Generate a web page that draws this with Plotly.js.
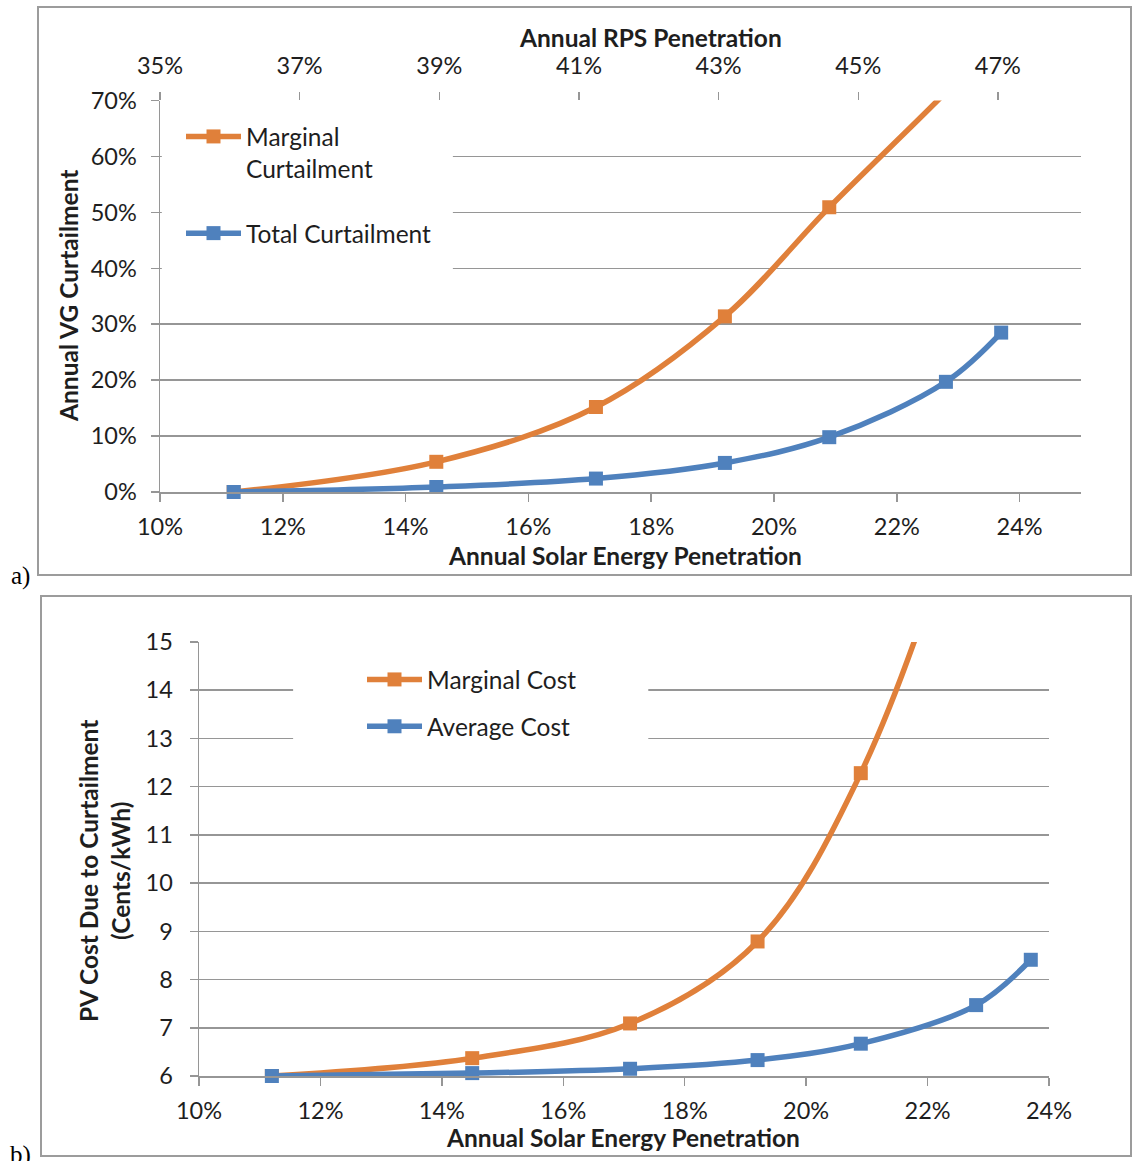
<!DOCTYPE html>
<html>
<head>
<meta charset="utf-8">
<script src="https://cdn.plot.ly/plotly-3.0.1.min.js"></script>
<style>
  html, body { margin: 0; padding: 0; background: #ffffff; }
  #chart { width: 1133px; height: 1161px; }
</style>
</head>
<body>
<div id="chart"></div>
<script>
// Annual solar energy penetration (%) at each simulated build-out
const solarPenetration = [11.2, 14.5, 17.1, 19.2, 20.9, 22.8, 23.7];

// a) Annual VG curtailment (%)
const marginalCurtailment = [0, 5.4, 15.2, 31.4, 50.9, 71.5, 82];
const totalCurtailment = [0, 0.9, 2.4, 5.2, 9.8, 19.7, 28.5];

// b) PV cost due to curtailment (cents/kWh)
const marginalCost = [6.0, 6.37, 7.09, 8.79, 12.28, 19, 24];
const averageCost = [6.0, 6.06, 6.15, 6.33, 6.67, 7.47, 8.41];

// Tick labels
const solarTicks = [10, 12, 14, 16, 18, 20, 22, 24];
const rpsTicks = [35, 37, 39, 41, 43, 45, 47];
const curtailTicks = [0, 10, 20, 30, 40, 50, 60, 70];
const costTicks = [6, 7, 8, 9, 10, 11, 12, 13, 14, 15];

const W = 1133, H = 1161;
const px = v => v / W;
const py = v => 1 - v / H;

const FONT = 'Lato, "Open Sans", "DejaVu Sans", sans-serif';
const TXT = '#1e1e1e';
const GRID = '#969696';
const ORANGE = '#E0803A';
const BLUE = '#4F81BD';
const TICK_SIZE = 23.5;
const TITLE_SIZE = 24.5;
const LEGEND_SIZE = 24.5;

const lineStyle = c => ({ color: c, width: 5.5, shape: 'spline', smoothing: 1 });
const markerStyle = c => ({ color: c, size: 14, symbol: 'square' });

const traces = [
  { x: solarPenetration, y: marginalCurtailment, name: 'Marginal<br>Curtailment',
    xaxis: 'x', yaxis: 'y', mode: 'lines+markers', line: lineStyle(ORANGE),
    marker: markerStyle(ORANGE), legend: 'legend', legendgroup: 'a1', cliponaxis: true },
  { x: solarPenetration, y: totalCurtailment, name: 'Total Curtailment',
    xaxis: 'x', yaxis: 'y', mode: 'lines+markers', line: lineStyle(BLUE),
    marker: markerStyle(BLUE), legend: 'legend', legendgroup: 'a2', cliponaxis: false },
  // empty trace that carries the secondary RPS axis along the top
  { x: [rpsTicks[0], rpsTicks[rpsTicks.length - 1]], y: [null, null],
    xaxis: 'x2', yaxis: 'y', mode: 'lines', showlegend: false, hoverinfo: 'skip' },
  { x: solarPenetration, y: marginalCost, name: 'Marginal Cost',
    xaxis: 'x3', yaxis: 'y2', mode: 'lines+markers', line: lineStyle(ORANGE),
    marker: markerStyle(ORANGE), legend: 'legend2', legendgroup: 'b1', cliponaxis: true },
  { x: solarPenetration, y: averageCost, name: 'Average Cost',
    xaxis: 'x3', yaxis: 'y2', mode: 'lines+markers', line: lineStyle(BLUE),
    marker: markerStyle(BLUE), legend: 'legend2', legendgroup: 'b2', cliponaxis: false }
];

const tickFont = { family: FONT, size: TICK_SIZE, color: TXT };
const axisBase = {
  showline: true, linecolor: GRID, linewidth: 1.5,
  ticks: 'outside', ticklen: 8, tickwidth: 1.5, tickcolor: GRID,
  tickfont: tickFont, zeroline: false, fixedrange: true
};
const titleFont = { family: FONT, size: TITLE_SIZE, color: TXT };

const layout = {
  width: W, height: H,
  margin: { l: 0, r: 0, t: 0, b: 0 },
  paper_bgcolor: '#ffffff', plot_bgcolor: '#ffffff',
  font: { family: FONT, color: TXT },
  showlegend: true,

  // panel a
  xaxis: Object.assign({}, axisBase, {
    domain: [px(160), px(1081)], anchor: 'y', range: [10, 25],
    tickmode: 'array', tickvals: solarTicks, ticktext: solarTicks.map(v => v + '%'),
    showgrid: false, ticklabelstandoff: 5
  }),
  xaxis2: Object.assign({}, axisBase, {
    overlaying: 'x', anchor: 'y', side: 'top', range: [35, 48.19],
    tickmode: 'array', tickvals: rpsTicks, ticktext: rpsTicks.map(v => v + '%'),
    showgrid: false, showline: false, ticklabelstandoff: 8
  }),
  yaxis: Object.assign({}, axisBase, {
    domain: [py(492), py(100.5)], anchor: 'x', range: [0, 70],
    tickmode: 'array', tickvals: curtailTicks, ticktext: curtailTicks.map(v => v + '%'),
    showgrid: true, gridcolor: GRID, gridwidth: 1.5, ticklabelstandoff: 9
  }),

  // panel b
  xaxis3: Object.assign({}, axisBase, {
    domain: [px(199), px(1049)], anchor: 'y2', range: [10, 24],
    tickmode: 'array', tickvals: solarTicks, ticktext: solarTicks.map(v => v + '%'),
    showgrid: false, ticklabelstandoff: 5
  }),
  yaxis2: Object.assign({}, axisBase, {
    domain: [py(1076), py(642)], anchor: 'x3', range: [6, 15],
    tickmode: 'array', tickvals: costTicks, ticktext: costTicks.map(String),
    showgrid: true, gridcolor: GRID, gridwidth: 1.5, ticklabelstandoff: 12
  }),

  legend: {
    x: px(181), y: py(114), xanchor: 'left', yanchor: 'top',
    bgcolor: 'rgba(0,0,0,0)', borderwidth: 0, valign: 'top',
    traceorder: 'grouped', tracegroupgap: 30, itemwidth: 55,
    font: { family: FONT, size: LEGEND_SIZE, color: TXT }
  },
  legend2: {
    x: px(362), y: py(657), xanchor: 'left', yanchor: 'top',
    bgcolor: 'rgba(0,0,0,0)', borderwidth: 0,
    traceorder: 'grouped', tracegroupgap: 12, itemwidth: 55,
    font: { family: FONT, size: LEGEND_SIZE, color: TXT }
  },

  shapes: [
    // chart frames
    { type: 'rect', xref: 'paper', yref: 'paper', x0: px(38), x1: px(1131), y0: py(575), y1: py(7),
      line: { color: '#9c9c9c', width: 2 }, fillcolor: 'rgba(0,0,0,0)', layer: 'below' },
    { type: 'rect', xref: 'paper', yref: 'paper', x0: px(41), x1: px(1131), y0: py(1156), y1: py(596),
      line: { color: '#9c9c9c', width: 2 }, fillcolor: 'rgba(0,0,0,0)', layer: 'below' },
    // white legend backdrops over the gridlines
    { type: 'rect', xref: 'x', yref: 'y', x0: 10.03, x1: 14.77, y0: 34, y1: 66,
      line: { width: 0 }, fillcolor: '#ffffff', layer: 'between' },
    { type: 'rect', xref: 'x3', yref: 'y2', x0: 11.55, x1: 17.40, y0: 12.5, y1: 14.5,
      line: { width: 0 }, fillcolor: '#ffffff', layer: 'between' }
  ],

  annotations: [
    { text: '<b>Annual RPS Penetration</b>', xref: 'paper', yref: 'paper', x: px(650), y: py(37),
      xanchor: 'center', yanchor: 'middle', showarrow: false, font: titleFont },
    { text: '<b>Annual Solar Energy Penetration</b>', xref: 'paper', yref: 'paper', x: px(625), y: py(555),
      xanchor: 'center', yanchor: 'middle', showarrow: false, font: titleFont },
    { text: '<b>Annual VG Curtailment</b>', xref: 'paper', yref: 'paper', x: px(68), y: py(296),
      xanchor: 'center', yanchor: 'middle', textangle: -90, showarrow: false, font: titleFont },
    { text: '<b>Annual Solar Energy Penetration</b>', xref: 'paper', yref: 'paper', x: px(623), y: py(1137),
      xanchor: 'center', yanchor: 'middle', showarrow: false, font: titleFont },
    { text: '<b>PV Cost Due to Curtailment<br>(Cents/kWh)</b>', xref: 'paper', yref: 'paper', x: px(104), y: py(871),
      xanchor: 'center', yanchor: 'middle', textangle: -90, showarrow: false, font: titleFont },
    { text: 'a)', xref: 'paper', yref: 'paper', x: px(21), y: py(576),
      xanchor: 'center', yanchor: 'middle', showarrow: false,
      font: { family: '"Liberation Serif", "Times New Roman", serif', size: 25, color: '#000' } },
    { text: 'b)', xref: 'paper', yref: 'paper', x: px(21), y: py(1155),
      xanchor: 'center', yanchor: 'middle', showarrow: false,
      font: { family: '"Liberation Serif", "Times New Roman", serif', size: 25, color: '#000' } }
  ]
};

Plotly.newPlot('chart', traces, layout, { displayModeBar: false, staticPlot: true });
</script>
</body>
</html>
